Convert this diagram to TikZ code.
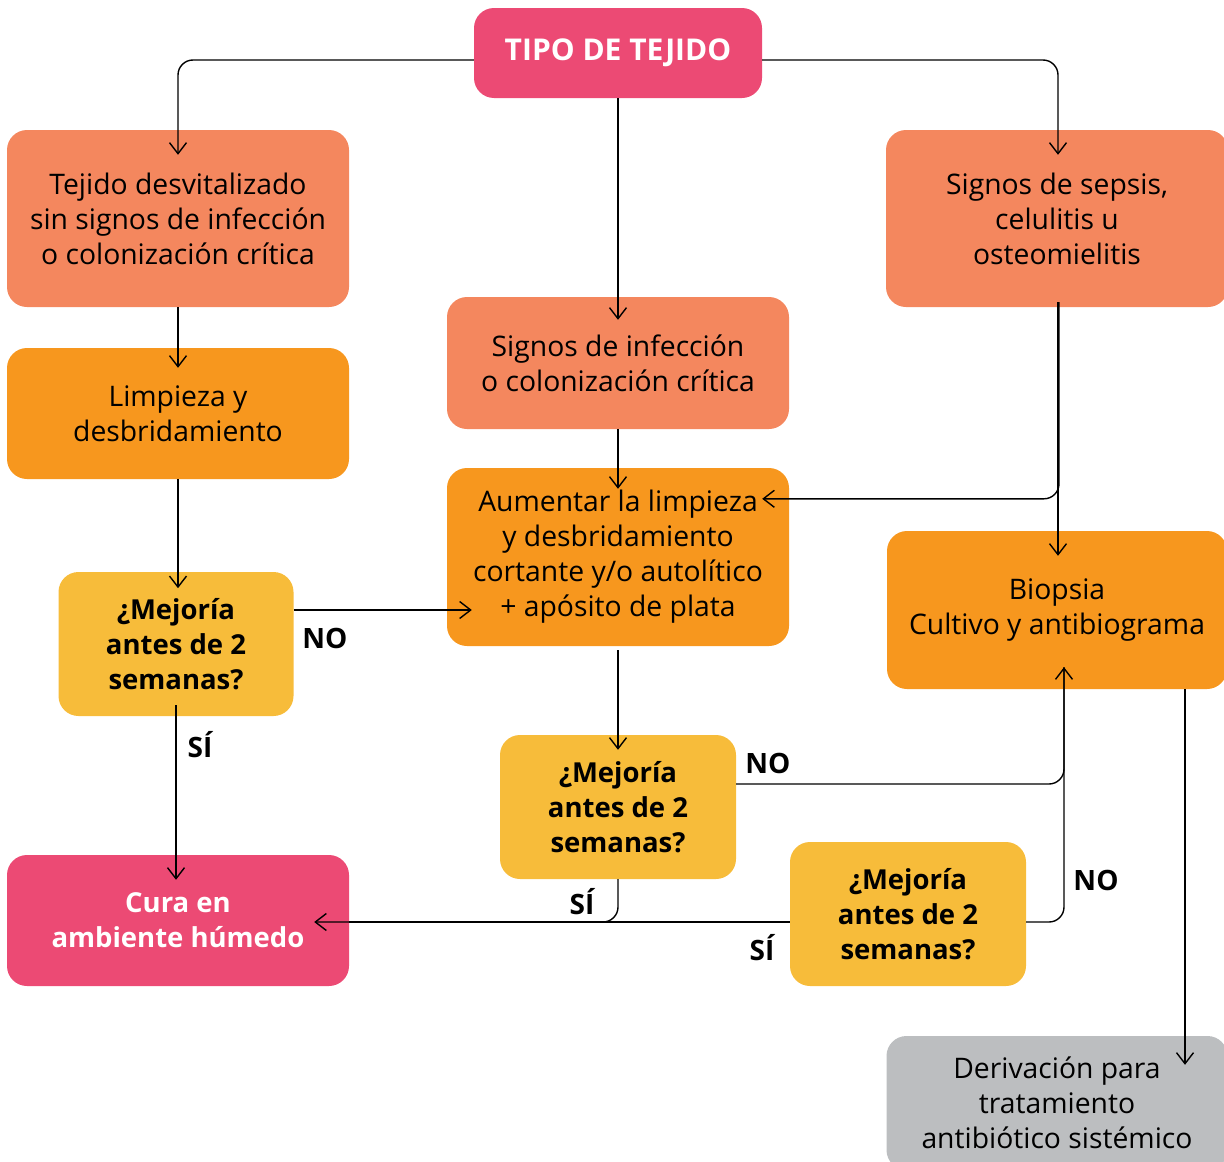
\documentclass[tikz,border=0pt]{standalone}
\usepackage{fontspec}
\setmainfont{Open Sans}
\usetikzlibrary{arrows.meta,calc}
\definecolor{cpink}{HTML}{EC4A74}
\definecolor{csalmon}{HTML}{F4875E}
\definecolor{corange}{HTML}{F7971E}
\definecolor{cyellow}{HTML}{F7BC3A}
\definecolor{cgray}{HTML}{BCBEC0}
\tikzset{
  box/.style={rectangle, rounded corners=20pt, inner sep=0pt, align=center,
    font=\fontsize{28.3}{35}\selectfont, text=black},
  boldbox/.style={box, font=\bfseries\fontsize{27.5}{35}\selectfont},
  link/.style={line width=1.4pt, -{Straight Barb[length=11pt,width=17pt]}, rounded corners=15pt},
  plain/.style={line width=1.4pt, rounded corners=15pt},
  lbl/.style={font=\bfseries\fontsize{28}{30}\selectfont, inner sep=0pt}
}
\begin{document}
\begin{tikzpicture}[x=1pt,y=-1pt]
\useasboundingbox (0,0) rectangle (1224,1162);

% boxes
\node[box, fill=cpink, text=white, font=\bfseries\fontsize{30}{35}\selectfont, minimum width=288pt, minimum height=90pt] (tipo) at (618,53) {TIPO DE TEJIDO};
\node[box, fill=csalmon, minimum width=342pt, minimum height=177pt] (tej) at (178,218.5) {Tejido desvitalizado\\sin signos de infección\\o colonización crítica};
\node[box, fill=csalmon, minimum width=342pt, minimum height=177pt] (seps) at (1057,218.5) {Signos de sepsis,\\celulitis u\\osteomielitis};
\node[box, fill=csalmon, minimum width=342pt, minimum height=132pt] (sinf) at (618,363) {Signos de infección\\o colonización crítica};
\node[box, fill=corange, minimum width=342pt, minimum height=131pt] (limp) at (178,413.5) {Limpieza y\\desbridamiento};
\node[box, fill=corange, minimum width=342pt, minimum height=178pt] (aum) at (618,557) {Aumentar la limpieza\\y desbridamiento\\cortante y/o autolítico\\+ apósito de plata};
\node[box, fill=corange, minimum width=340pt, minimum height=158pt] (biop) at (1057,610) {Biopsia\\Cultivo y antibiograma};
\node[boldbox, fill=cyellow, minimum width=235pt, minimum height=144pt] (mejl) at (176,644) {¿Mejoría\\antes de 2\\semanas?};
\node[boldbox, fill=cyellow, minimum width=236pt, minimum height=144pt] (mejm) at (618,807) {¿Mejoría\\antes de 2\\semanas?};
\node[boldbox, fill=cyellow, minimum width=236pt, minimum height=144pt] (mejr) at (908,914) {¿Mejoría\\antes de 2\\semanas?};
\node[boldbox, fill=cpink, text=white, minimum width=342pt, minimum height=131pt] (cura) at (178,920.5) {Cura en\\ambiente húmedo};
\node[box, fill=cgray, minimum width=341pt, minimum height=134pt] (deriv) at (1057,1103) {Derivación para\\tratamiento\\antibiótico sistémico};

% connectors
\draw[link] ($(tipo.west)+(0,7)$) -| ($(tej.north)+(0,25)$);
\draw[link] ($(tipo.east)+(0,7)$) -| ($(seps.north)+(1,25)$);
\draw[link] (tipo.south) -- ($(sinf.north)+(0,23)$);
\draw[link] (tej.south) -- ($(limp.north)+(0,20)$);
\draw[link] (limp.south) -- ++(0,109);
\draw[link] (sinf.south) -- ($(aum.north)+(0,21)$);
\draw[link] ($(seps.south)+(2,-5)$) |- ($(aum.north east)+(-27,31)$);
\draw[link] ($(seps.south)+(1,-5)$) -- ($(biop.north)+(1,25)$);
\draw[link] ($(mejl.east)+(0,-34)$) -- ($(aum.west |- mejl.east)+(25,-34)$);
\draw[link] ($(mejl.south)+(0,-11)$) -- ($(cura.north -| mejl.south)+(0,25)$);
\draw[link] ($(aum.south)+(0,4)$) -- ($(mejm.north)+(0,15)$);
\draw[link] ($(mejm.east)+(0,-23)$) -| ($(biop.south)+(7,-22)$);
\draw[plain] ($(mejr.east)+(0,8)$) -| ($(biop.south)+(7,-22)$);
\draw[link] (mejm.south) |- ($(cura.east)+(-35,1.5)$);
\draw[plain] ($(mejr.west)+(0,8)$) -- ($(cura.east)+(0,1.5)$);
\draw[link] ($(biop.south)+(128,0)$) -- ($(deriv.north)+(128,29)$);

% branch labels
\node[lbl] (no1) at (325,638) {NO};
\node[lbl] (si1) at (200,745) {SÍ};
\node[lbl] (no2) at (768,763) {NO};
\node[lbl] (si2) at (582,902) {SÍ};
\node[lbl] (si3) at (762,948) {SÍ};
\node[lbl] (no3) at (1096,880) {NO};
\end{tikzpicture}
\end{document}
